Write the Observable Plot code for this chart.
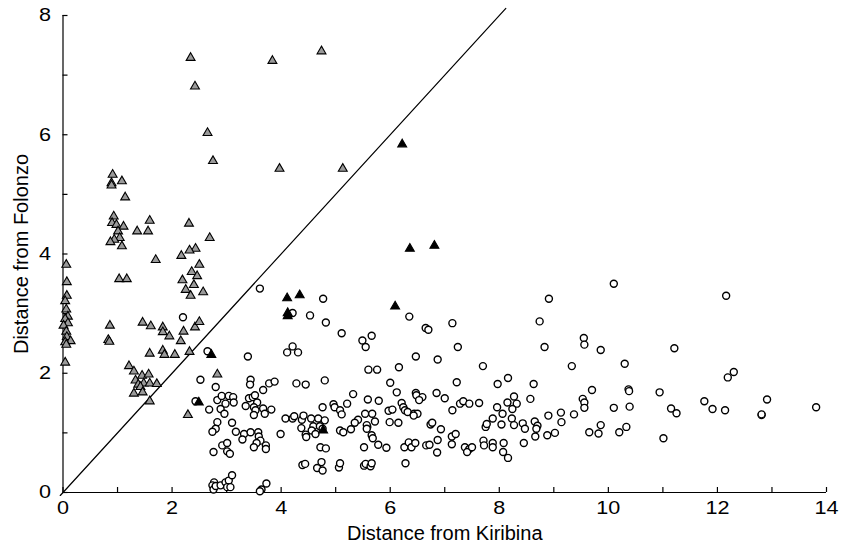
<!DOCTYPE html>
<html>
<head>
<meta charset="utf-8">
<script src="https://cdn.jsdelivr.net/npm/d3@7"></script>
<script src="https://cdn.jsdelivr.net/npm/@observablehq/plot@0.6"></script>
<style>
  html, body { margin: 0; padding: 0; background: #fff; }
</style>
</head>
<body>
<div id="chart"></div>
<script>
// ---- data ----
const xLabel = "Distance from Kiribina";
const yLabel = "Distance from Folonzo";
const xMajorTicks = [0, 2, 4, 6, 8, 10, 12, 14];
const xAllTicks = [0,1,2,3,4,5,6,7,8,9,10,11,12,13,14];
const yMajorTicks = [0, 2, 4, 6, 8];
const yAllTicks = [0,1,2,3,4,5,6,7,8];
const identityLine = [-0.05, 8.12];

const grayTriangles = [
  [2.34,7.29],[2.42,6.81],[2.65,6.03],[2.75,5.56],[3.84,7.24],[3.97,5.43],[4.74,7.40],[5.13,5.43],
  [0.91,5.33],[0.89,5.19],[0.89,5.15],[1.08,5.22],[1.14,4.95],[0.93,4.63],[0.90,4.52],[0.98,4.49],
  [1.11,4.46],[1.01,4.38],[1.04,4.27],[0.94,4.24],[0.87,4.20],[1.08,4.13],[1.36,4.38],[1.59,4.56],[1.56,4.38],
  [2.31,4.51],[2.69,4.27],[2.43,4.09],[2.32,4.06],[2.17,3.97],[1.70,3.90],
  [0.06,3.82],[0.07,3.53],[0.07,3.30],[0.04,3.21],[0.06,3.07],[0.09,2.95],[0.04,2.91],[0.09,2.84],
  [0.01,2.80],[0.06,2.70],[0.07,2.61],[0.14,2.54],[0.04,2.52],[0.06,2.48],[0.04,2.18],
  [1.03,3.58],[1.17,3.58],[2.50,3.82],[2.36,3.70],[2.46,3.63],[2.19,3.56],[2.40,3.48],[2.25,3.40],
  [2.34,3.30],[2.57,3.36],
  [0.86,2.80],[0.83,2.56],[0.85,2.53],
  [1.46,2.85],[1.61,2.79],[1.83,2.77],[1.83,2.69],[1.95,2.62],[2.21,2.70],[2.42,2.77],[2.50,2.86],[2.16,2.54],
  [1.59,2.33],[1.83,2.38],[1.86,2.31],[2.05,2.31],[2.32,2.36],
  [1.21,2.12],[1.30,2.03],[1.33,1.88],[1.45,1.96],[1.57,1.98],[1.38,1.81],[1.48,1.83],[1.59,1.83],
  [1.72,1.82],[1.42,1.77],[1.30,1.66],[1.46,1.68],[1.59,1.53],
  [2.83,1.98],[2.29,1.30]
];

const blackTriangles = [
  [6.22,5.84],[6.36,4.09],[6.81,4.14],[4.11,3.26],[4.34,3.31],[4.12,3.01],[4.12,2.96],
  [6.09,3.12],[4.77,1.04],[2.72,2.31],[2.49,1.51]
];

const openCircles = [
  // x 2.2 - 4.0
  [3.61,3.42],[2.20,2.94],[2.65,2.37],[3.39,2.28],
  [2.52,1.89],[2.80,1.77],[3.44,1.89],[3.43,1.81],[3.78,1.83],[3.88,1.86],[3.67,1.72],
  [2.43,1.53],
  [2.83,1.55],[2.91,1.62],[3.04,1.62],[3.12,1.60],[3.13,1.51],[2.98,1.49],[2.89,1.40],[2.68,1.39],[2.96,1.32],
  [3.41,1.58],[3.48,1.60],[3.52,1.63],[3.56,1.51],[3.35,1.45],[3.50,1.43],[3.53,1.38],[3.67,1.41],
  [3.70,1.32],[3.82,1.39],[3.50,1.30],
  [2.83,1.18],[2.80,1.07],[2.74,1.02],
  [3.10,1.17],[3.17,1.02],[3.32,0.98],[3.29,0.89],[3.44,1.01],[3.58,1.01],[3.59,0.94],[3.62,0.87],
  [3.55,0.83],[3.50,0.76],[3.72,0.79],[3.72,0.73],[3.99,0.98],
  [2.92,0.79],[3.01,0.83],[2.76,0.68],[3.01,0.69],[3.06,0.65],
  [2.77,0.17],[2.74,0.12],[2.76,0.05],[2.80,0.11],[2.89,0.12],[2.98,0.17],[3.04,0.20],[3.10,0.29],
  [3.01,0.09],[3.07,0.09],[3.73,0.15],[3.64,0.05],[3.61,0.02],
  // x 4.0 - 5.0
  [4.21,3.01],[4.77,3.25],[4.53,2.97],[4.82,2.85],
  [4.21,2.45],[4.11,2.35],[4.31,2.35],
  [4.28,1.83],[4.45,1.81],[4.80,1.88],[4.76,1.43],
  [4.08,1.24],[4.21,1.24],[4.24,1.28],[4.38,1.22],[4.41,1.29],[4.55,1.24],[4.68,1.24],[4.80,1.21],
  [4.37,1.08],[4.59,1.11],[4.71,1.11],[4.45,0.97],[4.46,0.93],[4.56,1.04],[4.63,0.98],[4.76,1.07],
  [4.72,0.76],[4.82,0.74],
  [4.39,0.46],[4.44,0.48],[4.66,0.41],[4.74,0.51],[4.76,0.37],
  // x 5.0 - 7.0
  [5.11,2.67],[5.49,2.55],[5.66,2.63],[5.55,2.44],[5.60,2.06],[5.76,2.06],[6.35,2.95],[6.65,2.76],
  [6.70,2.73],[6.47,2.28],[6.16,2.10],[6.87,2.23],
  [6.00,1.84],[6.12,1.68],[5.32,1.65],[5.59,1.56],[5.79,1.54],[5.21,1.49],[4.96,1.48],[4.98,1.43],
  [5.08,1.38],[5.11,1.31],
  [6.47,1.67],[6.48,1.63],[6.59,1.60],[6.53,1.55],
  [6.21,1.50],[6.24,1.43],[6.27,1.38],[6.32,1.35],[6.44,1.32],[6.50,1.32],[6.43,1.29],
  [5.97,1.37],[6.04,1.39],[5.99,1.18],[6.15,1.17],
  [5.54,1.32],[5.67,1.32],[5.72,1.19],[5.58,1.10],[5.57,1.13],[5.57,1.07],[5.41,1.22],[5.35,1.17],
  [5.28,1.06],[5.08,1.04],[5.14,1.01],
  [5.66,0.96],[5.68,0.91],[5.78,0.80],[5.93,0.75],[5.52,0.76],
  [6.26,0.76],[6.34,0.84],[6.39,0.76],[6.46,0.83],
  [6.66,0.79],[6.72,0.80],[6.28,0.49],
  [6.87,0.88],[6.86,0.67],[6.93,1.06],[6.74,1.14],[6.77,1.17],[7.00,1.58],[6.85,1.67],
  [5.06,0.42],[5.08,0.49],[5.52,0.45],[5.55,0.48],[5.64,0.44],[5.66,0.49],
  [7.14,2.84],[7.24,2.44],[7.70,2.12],
  // x 7.0 - 9.0
  [7.22,1.85],[7.14,1.38],[7.28,1.49],[7.34,1.53],[7.45,1.49],[7.63,1.50],
  [7.13,0.94],[7.20,0.98],[7.13,0.81],
  [7.37,0.76],[7.45,0.73],[7.41,0.68],[7.50,0.76],
  [7.71,0.87],[7.72,0.79],[7.88,0.83],[7.88,0.76],
  [7.75,1.10],[7.77,1.15],[7.88,1.24],
  [7.96,1.43],[7.97,1.82],
  [8.06,1.32],[8.15,1.51],[8.27,1.61],[8.32,1.49],[8.24,1.40],[8.04,1.14],[8.23,1.24],[8.27,1.13],
  [8.43,1.16],[8.47,1.07],
  [8.45,0.83],[8.08,0.83],[8.07,0.68],[8.16,0.58],
  [8.16,1.92],[8.63,1.82],[8.57,1.57],
  [8.65,1.19],[8.70,1.12],[8.68,1.07],[8.66,0.94],
  [8.90,1.29],[8.88,0.96],
  [8.74,2.87],[8.91,3.25],[8.83,2.44],
  // x 9.0 - 14
  [9.02,1.00],[9.13,1.34],[9.14,1.18],[9.37,1.31],[9.53,1.57],[9.56,1.51],[9.56,1.42],[9.70,1.72],
  [9.65,1.01],[9.82,0.99],[9.86,1.13],
  [9.55,2.59],[9.56,2.48],[9.33,2.12],[9.86,2.39],[10.10,3.50],[10.30,2.16],[12.16,3.30],[11.21,2.42],
  [12.19,1.93],[12.30,2.02],
  [10.37,1.73],[10.38,1.70],[10.94,1.68],[10.10,1.42],[10.39,1.44],[11.15,1.41],[11.25,1.33],
  [11.76,1.53],[11.91,1.40],[12.14,1.38],[10.20,1.01],[10.33,1.10],[11.01,0.91],
  [12.81,1.30],[12.81,1.31],[12.91,1.56],[13.81,1.43]
];

// ---- layout ----
const W = 848, H = 555;
const mL = 62.5, mR = 22, mT = 15, mB = 63;
const xDomain = [0, 14], yDomain = [0, 8];
const tickPx = 5;
// inward tick length expressed in data units of each scale
const tickLenY = tickPx * (yDomain[1] - yDomain[0]) / (H - mT - mB);
const tickLenX = tickPx * (xDomain[1] - xDomain[0]) / (W - mL - mR);

const chart = Plot.plot({
  width: W,
  height: H,
  marginLeft: mL,
  marginRight: mR,
  marginTop: mT,
  marginBottom: mB,
  style: { fontFamily: "'Liberation Sans', Arial, Helvetica, sans-serif", background: "#fff", color: "#000" },
  x: { domain: xDomain, label: null },
  y: { domain: yDomain, label: null },
  marks: [
    Plot.ruleY([0], { stroke: "#000", strokeWidth: 1.2 }),
    Plot.ruleX([0], { stroke: "#000", strokeWidth: 1.2 }),
    Plot.ruleX(xAllTicks, { x: d => d, y1: yDomain[0], y2: yDomain[0] + tickLenY, stroke: "#000", strokeWidth: 1.2 }),
    Plot.ruleY(yAllTicks, { y: d => d, x1: xDomain[0], x2: xDomain[0] + tickLenX, stroke: "#000", strokeWidth: 1.2 }),
    Plot.axisX({ ticks: xMajorTicks, tickSize: 0, tickPadding: 9, fontSize: 18, fill: "#000", label: null }),
    Plot.axisY({ ticks: yMajorTicks, tickSize: 0, tickPadding: 12, fontSize: 18, fill: "#000", label: null }),
    Plot.line(identityLine, { x: d => d, y: d => d, stroke: "#000", strokeWidth: 1.2 }),
    Plot.dot(openCircles, { x: d => d[0], y: d => d[1], r: 3.5, symbol: "circle", fill: "#fff", stroke: "#000", strokeWidth: 1.4 }),
    Plot.dot(grayTriangles, { x: d => d[0], y: d => d[1], r: 3.3, symbol: "triangle", fill: "#9a9a9a", stroke: "#000", strokeWidth: 1.1 }),
    Plot.dot(blackTriangles, { x: d => d[0], y: d => d[1], r: 3.3, symbol: "triangle", fill: "#000", stroke: "#000", strokeWidth: 1.1 }),
    Plot.text([xLabel], { frameAnchor: "bottom", dy: 47, fontSize: 20, fill: "#000", textAnchor: "middle" }),
    Plot.text([yLabel], { frameAnchor: "left", dx: -41, rotate: -90, fontSize: 20, fill: "#000", textAnchor: "middle" })
  ]
});

document.getElementById("chart").appendChild(chart);

// widen the tick digits a little, like the reference
const labels = chart.querySelectorAll('g[aria-label="x-axis tick label"] text, g[aria-label="y-axis tick label"] text');
for (const t of labels) {
  const tr = t.getAttribute("transform");
  if (tr) {
    t.setAttribute("transform", tr + " scale(1.2,1)");
  } else {
    const x = +(t.getAttribute("x") || 0), y = +(t.getAttribute("y") || 0);
    t.removeAttribute("x"); t.removeAttribute("y");
    t.setAttribute("transform", `translate(${x},${y}) scale(1.2,1)`);
  }
}
</script>
</body>
</html>
